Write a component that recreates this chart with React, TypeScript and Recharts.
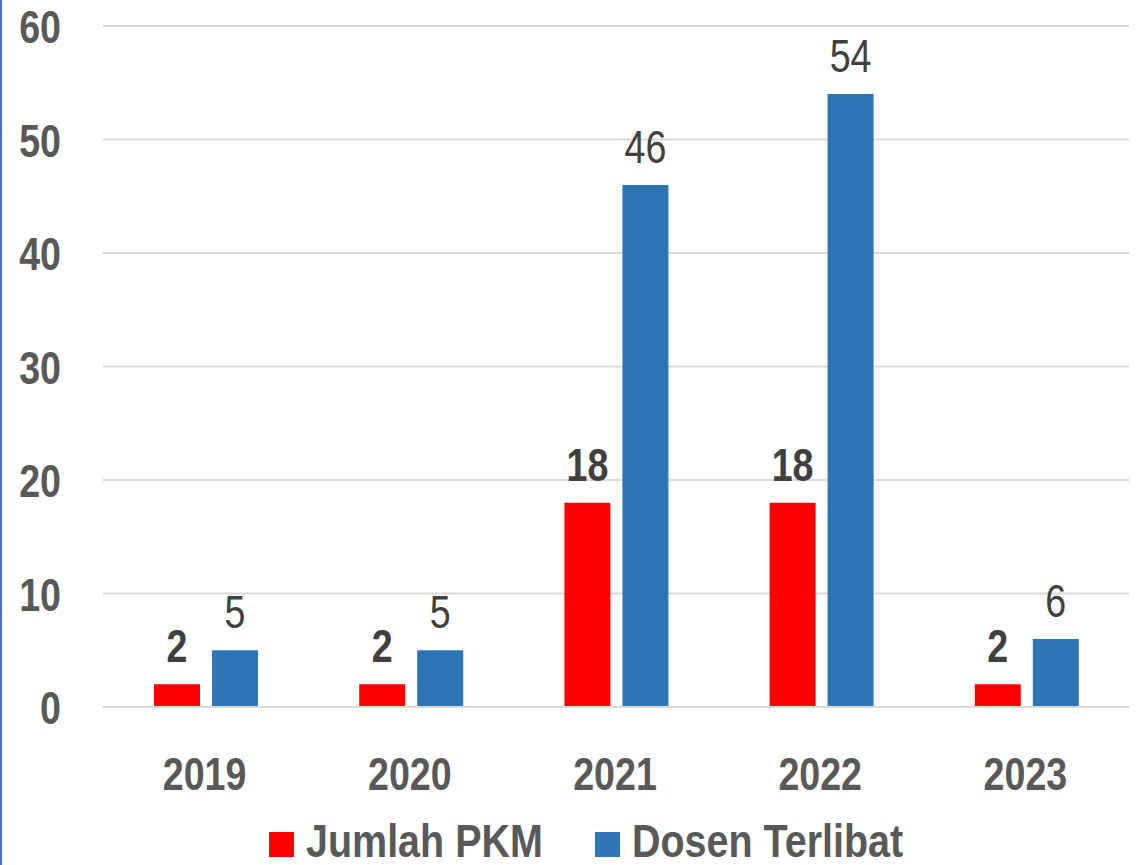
import { Bar, BarChart, CartesianGrid, LabelList, Legend, XAxis, YAxis } from 'recharts'

const years = ['2019', '2020', '2021', '2022', '2023']
const jumlahPkm = [2, 2, 18, 18, 2]
const dosenTerlibat = [5, 5, 46, 54, 6]
const yTicks = [0, 10, 20, 30, 40, 50, 60]

const series = [
  { key: 'pkm', name: 'Jumlah PKM', color: '#ff0000', bold: true },
  { key: 'dosen', name: 'Dosen Terlibat', color: '#2e75b6', bold: false },
]

const data = years.map((year, i) => ({ year, pkm: jumlahPkm[i], dosen: dosenTerlibat[i] }))

// no narrow face installed, so squeeze Liberation Sans horizontally
const FONT = "'Liberation Sans', Arial, sans-serif"
const SQUEEZE = 0.8
const FS = 47
const AXIS_TEXT = '#595959'
const LABEL_TEXT = '#404040'
const GRID = '#d9d9d9'

function NarrowText({ x, y, anchor, fill, bold, squeeze = SQUEEZE, children }: {
  x: number; y: number; anchor: 'start' | 'middle' | 'end'; fill: string; bold?: boolean; squeeze?: number; children: React.ReactNode
}) {
  return (
    <text
      transform={`translate(${x},${y}) scale(${squeeze},1)`}
      textAnchor={anchor}
      fill={fill}
      fontSize={FS}
      fontFamily={FONT}
      fontWeight={bold ? 'bold' : 'normal'}
    >
      {children}
    </text>
  )
}

function YTick({ y, payload }: { y?: number; payload?: { value: number } }) {
  return (
    <NarrowText x={61} y={(y ?? 0) + 17} anchor="end" fill={AXIS_TEXT} bold>
      {payload?.value}
    </NarrowText>
  )
}

function XTick({ x, y, payload }: { x?: number; y?: number; payload?: { value: string } }) {
  return (
    <NarrowText x={(x ?? 0) - 1} y={(y ?? 0) + 75} anchor="middle" fill={AXIS_TEXT} bold>
      {payload?.value}
    </NarrowText>
  )
}

function barLabel(bold: boolean) {
  return (props: any) => {
    const { x, y, width, value } = props
    return (
      <NarrowText x={Number(x) + Number(width) / 2} y={Number(y) - 22} anchor="middle" fill={LABEL_TEXT} bold={bold}>
        {value}
      </NarrowText>
    )
  }
}

const legendSquareX = [269, 595]

function ChartLegend() {
  return (
    <svg width={1137} height={50} style={{ display: 'block' }}>
      {series.map((s, i) => (
        <g key={s.key}>
          <rect x={legendSquareX[i]} y={17} width={25} height={25} fill={s.color} />
          <NarrowText x={legendSquareX[i] + 37} y={42} anchor="start" fill={AXIS_TEXT} bold squeeze={0.84}>
            {s.name}
          </NarrowText>
        </g>
      ))}
    </svg>
  )
}

export default function App() {
  return (
    <div style={{ position: 'absolute', left: 0, top: 0, width: 1137, height: 865, fontFamily: FONT, background: '#fff' }}>
      <div style={{ position: 'absolute', left: 0, top: 0, width: 2, height: 865, background: '#4472c4', zIndex: 2 }} />
      <BarChart
        width={1137}
        height={865}
        data={data}
        margin={{ top: 26, right: 8, bottom: 0, left: 0 }}
        barSize={46}
        barGap={12}
      >
        <CartesianGrid vertical={false} stroke={GRID} strokeWidth={2} />
        <XAxis
          dataKey="year"
          height={108}
          tickLine={false}
          axisLine={{ stroke: GRID, strokeWidth: 2 }}
          tick={<XTick />}
          interval={0}
        />
        <YAxis
          width={103}
          domain={[0, 60]}
          ticks={yTicks}
          axisLine={false}
          tickLine={false}
          tick={<YTick />}
        />
        <Legend
          verticalAlign="bottom"
          height={50}
          content={<ChartLegend />}
          wrapperStyle={{ left: 0, bottom: 0, width: 1137 }}
        />
        {series.map((s) => (
          <Bar key={s.key} dataKey={s.key} name={s.name} fill={s.color} isAnimationActive={false}>
            <LabelList dataKey={s.key} content={barLabel(s.bold)} />
          </Bar>
        ))}
      </BarChart>
    </div>
  )
}
